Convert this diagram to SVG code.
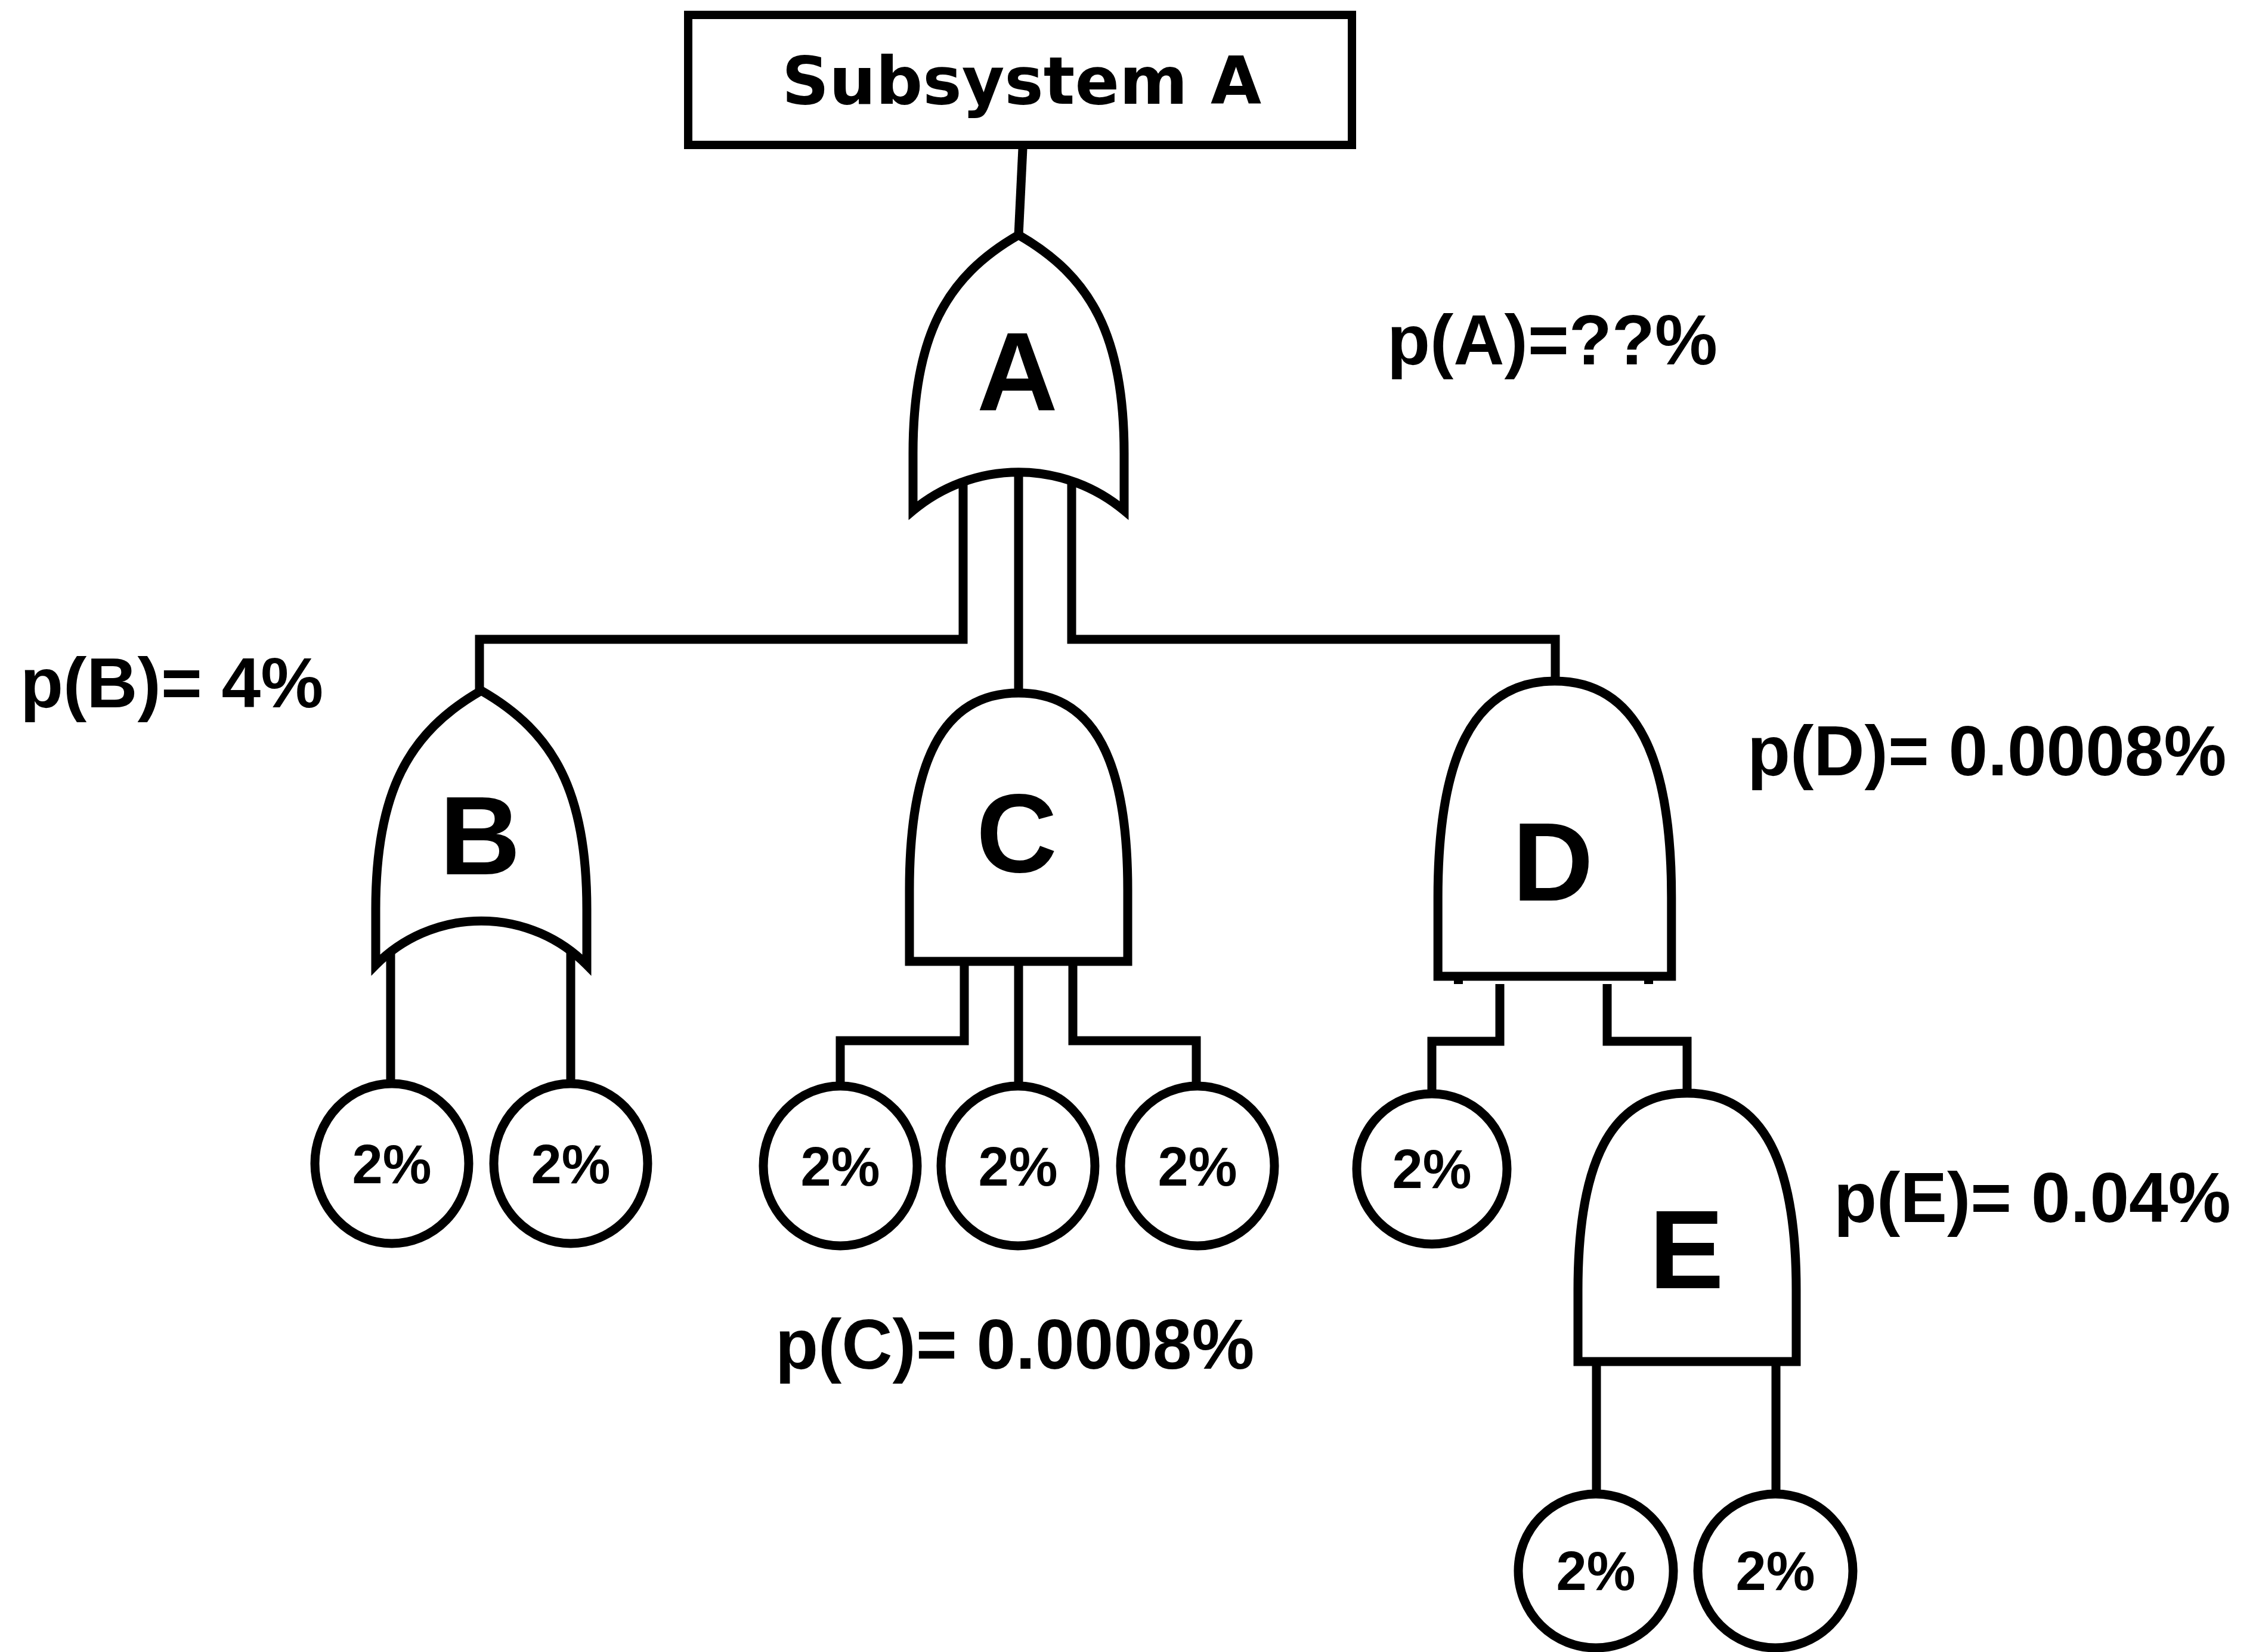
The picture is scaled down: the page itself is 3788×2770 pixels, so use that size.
<svg xmlns="http://www.w3.org/2000/svg" width="3788" height="2770" viewBox="0 0 3788 2770">
<defs>
<style>
.gate{fill:#fff;stroke:#000;stroke-width:15;stroke-linejoin:miter}
.box{fill:#fff;stroke:#000;stroke-width:14}
.conn{fill:none;stroke:#000;stroke-width:15;stroke-linejoin:miter}
.ev{fill:#fff;stroke:#000;stroke-width:15}
.gl{font-family:"Liberation Sans",Arial,sans-serif;font-weight:bold;font-size:188px;text-anchor:middle}
.pl{font-family:"Liberation Sans",Arial,sans-serif;font-weight:bold;font-size:118px}
.el{font-family:"Liberation Sans",Arial,sans-serif;font-weight:bold;font-size:92px;text-anchor:middle}
.tl{font-family:"DejaVu Sans",sans-serif;font-weight:bold;font-size:110px;text-anchor:middle}
</style>
<path id="orShapeA" d="M0,0 C-122,70 -177,170 -177,366 L-177,462 A276,276 0 0 1 177,462 L177,366 C177,170 122,70 0,0 Z"/>
<path id="orShape" d="M0,0 C-122,70 -177,170 -177,366 L-177,460 A249,249 0 0 1 177,460 L177,366 C177,170 122,70 0,0 Z"/>
<path id="andShape" vector-effect="non-scaling-stroke" d="M-183,450 L-183,330 C-183,120 -130,0 0,0 C130,0 183,120 183,330 L183,450 Z"/>
</defs>
<rect width="3788" height="2770" fill="#fff"/>

<g id="connectors">
<path class="conn" d="M1715,249 L1708,394"/>
<path class="conn" d="M1615,800 L1615,1072 L804,1072 L804,1160"/>
<path class="conn" d="M1708,790 L1708,1162"/>
<path class="conn" d="M1797,800 L1797,1072 L2608,1072 L2608,1142"/>
<path class="conn" d="M655,1590 L655,1815"/>
<path class="conn" d="M957,1590 L957,1815"/>
<path class="conn" d="M1617,1611 L1617,1745 L1409,1745 L1409,1820"/>
<path class="conn" d="M1708,1611 L1708,1820"/>
<path class="conn" d="M1799,1611 L1799,1745 L2006,1745 L2006,1820"/>
<path class="conn" d="M2515,1650 L2515,1746 L2401,1746 L2401,1832"/>
<path class="conn" d="M2695,1650 L2695,1746 L2829,1746 L2829,1831"/>
<path class="conn" d="M2677,2283 L2677,2502"/>
<path class="conn" d="M2978,2283 L2978,2502"/>
</g>

<g id="top-event">
<rect class="box" x="1154" y="25" width="1113" height="218"/>
<text class="tl" x="1713" y="174">Subsystem A</text>
</g>

<g id="gate-A">
<use href="#orShapeA" class="gate" transform="translate(1708,394)"/>
<text class="gl" x="1706" y="688">A</text>
</g>

<g id="gate-B">
<use href="#orShape" class="gate" transform="translate(807,1158)"/>
<text class="gl" x="805" y="1466">B</text>
</g>

<g id="gate-C">
<use href="#andShape" class="gate" transform="translate(1708,1162)"/>
<text class="gl" x="1705" y="1462">C</text>
</g>

<g id="gate-D">
<use href="#andShape" class="gate" transform="translate(2607,1142) scale(1.07,1.1)"/>
<path d="M2438,1644 h15 v6 h-15 Z M2757,1644 h15 v6 h-15 Z" fill="#000"/>
<text class="gl" x="2604" y="1510">D</text>
</g>

<g id="gate-E">
<use href="#andShape" class="gate" transform="translate(2829,1833)"/>
<text class="gl" x="2828" y="2160">E</text>
</g>

<g id="event-B1"><ellipse class="ev" cx="657" cy="1951" rx="129" ry="134"/><text class="el" x="657" y="1984">2%</text></g>
<g id="event-B2"><ellipse class="ev" cx="957" cy="1951" rx="129" ry="134"/><text class="el" x="957" y="1984">2%</text></g>
<g id="event-C1"><ellipse class="ev" cx="1409" cy="1955" rx="129" ry="134"/><text class="el" x="1409" y="1988">2%</text></g>
<g id="event-C2"><ellipse class="ev" cx="1707" cy="1955" rx="129" ry="134"/><text class="el" x="1707" y="1988">2%</text></g>
<g id="event-C3"><ellipse class="ev" cx="2008" cy="1955" rx="129" ry="134"/><text class="el" x="2008" y="1988">2%</text></g>
<g id="event-D1"><ellipse class="ev" cx="2401" cy="1960" rx="126" ry="126"/><text class="el" x="2401" y="1992">2%</text></g>
<g id="event-E1"><ellipse class="ev" cx="2676" cy="2634" rx="130" ry="129"/><text class="el" x="2676" y="2666">2%</text></g>
<g id="event-E2"><ellipse class="ev" cx="2977" cy="2634" rx="130" ry="129"/><text class="el" x="2977" y="2666">2%</text></g>

<g id="labels">
<text class="pl" x="2326" y="611">p(A)=??%</text>
<text class="pl" x="34" y="1186">p(B)= 4%</text>
<text class="pl" x="1300" y="2295">p(C)= 0.0008%</text>
<text class="pl" x="2930" y="1300">p(D)= 0.0008%</text>
<text class="pl" x="3075" y="2049">p(E)= 0.04%</text>
</g>
</svg>
